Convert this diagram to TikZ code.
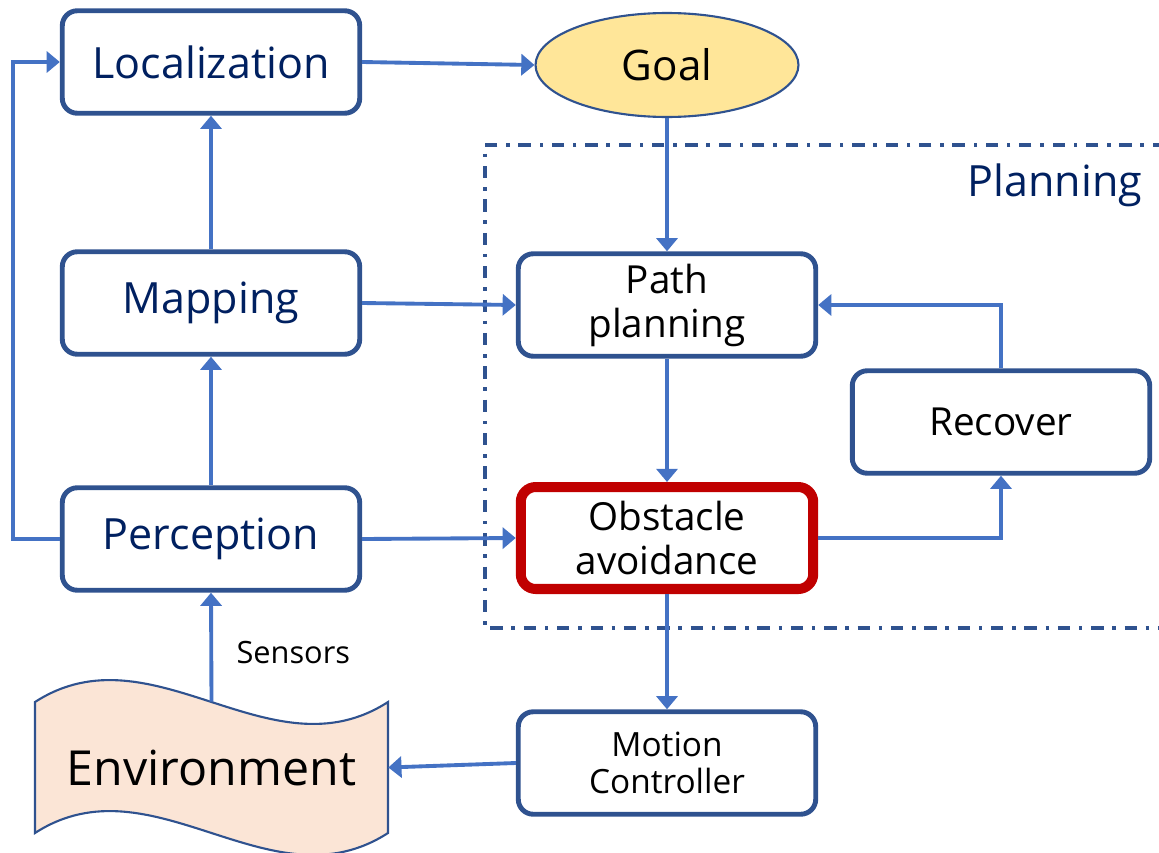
\documentclass[tikz,border=0pt]{standalone}
\usepackage{fontspec}
\setmainfont{Open Sans}
\usetikzlibrary{arrows.meta,shapes.geometric,positioning}
\definecolor{boxblue}{HTML}{2F528F}
\definecolor{linkblue}{HTML}{4472C4}
\definecolor{navy}{HTML}{002060}
\definecolor{alertred}{HTML}{C00000}
\definecolor{goalfill}{HTML}{FFE699}
\definecolor{envfill}{HTML}{FBE5D6}
\tikzset{%
    block/.style={%
        rectangle, rounded corners=0.3cm, draw=boxblue, line width=2.8pt, fill=white,
        minimum width=5.95cm, minimum height=2.05cm, align=center
    },
    bigtxt/.style={%
        text=navy, font=\fontsize{24.5}{28}\selectfont
    },
    smalltxt/.style={%
        text=black, font=\fontsize{22}{25}\selectfont
    },
    goal_node/.style={%
        ellipse, draw=boxblue, line width=1.2pt, fill=goalfill,
        minimum width=5.26cm, minimum height=2.08cm, font=\fontsize{24}{28}\selectfont
    },
    env_node/.style={%
        rectangle, minimum width=7.06cm, minimum height=2.62cm,
        font=\fontsize{27.5}{32}\selectfont
    },
    wave/.style={%
        draw=boxblue, line width=1.2pt, fill=envfill
    },
    link/.style={%
        draw=linkblue, line width=2.2pt, -{Triangle[length=7.5pt, width=12pt]}
    },
    frame/.style={%
        draw=boxblue, line width=2.2pt,
        dash pattern=on 7pt off 5pt on 2pt off 5pt
    },
}

\begin{document}
\begin{tikzpicture}[x=0.02cm, y=-0.02cm]
      \useasboundingbox (0,0) rectangle (1159,852);

      % planning group
      \draw[frame] (1165,145) -- (485,145) -- (485,628) -- (1165,628);
      \node[text=navy, font=\fontsize{24.5}{28}\selectfont] (plan_lbl) at (1055,185) {Planning};

      % left column
      \node[block, bigtxt] (loc) at (211,62) {Localization};
      \node[block, bigtxt] (map) at (211,303) {Mapping};
      \node[block, bigtxt] (perc) at (211,539) {Perception};

      % environment: wavy sheet behind its label
      \path[wave] (35,702) .. controls (152.7,626) and (270.3,778) .. (388,702)
            -- (388,833) .. controls (270.3,909) and (152.7,757) .. (35,833) -- cycle;
      \node[env_node] (env) at (211.5,767.5) {Environment};

      % right column
      \node[goal_node] (goal) at (667,65) {Goal};
      \node[block, smalltxt] (path) at (667,305) {Path\\planning};
      \node[block, smalltxt, draw=alertred, line width=5.7pt, minimum width=5.85cm, minimum height=2.04cm] (obst) at (667,538) {Obstacle\\avoidance};
      \node[block, smalltxt] (rec) at (1001,422) {Recover};
      \node[block, smalltxt, font=\fontsize{19}{21}\selectfont] (motion) at (667,763) {Motion\\Controller};

      % connections
      \draw[link] (loc.east) -- (goal.west);
      \draw[link] (goal.south) -- (path.north);
      \draw[link] (map.north) -- (loc.south);
      \draw[link] (perc.north) -- (map.south);
      \draw[link] (map.east) -- (path.west);
      \draw[link] (perc.east) -- (obst.west);
      \draw[link] (path.south) -- (obst.north);
      \draw[link] (obst.east) -| (rec.south);
      \draw[link] (rec.north) |- (path.east);
      \draw[link] (obst.south) -- (motion.north);
      \draw[link] (motion.west) -- (env.east);
      \draw[link] (env.north) -- (perc.south) node[pos=0.45, right=0.35cm, font=\fontsize{17.5}{20}\selectfont] (sens) {Sensors};
      \draw[link] (perc.west) -- ++(-47,0) |- (loc.west);
    \end{tikzpicture}
\end{document}
